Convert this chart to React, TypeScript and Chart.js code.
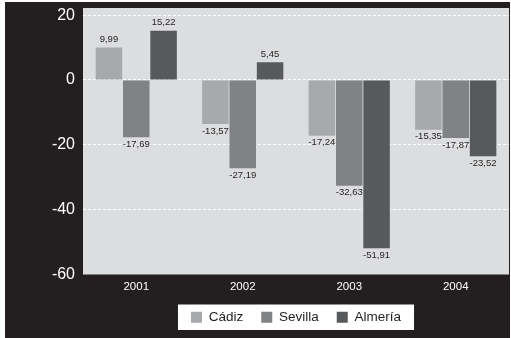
import React, { useEffect, useRef } from "react";
import { Chart, registerables } from "chart.js";

Chart.register(...registerables);

const CATEGORIES = ["2001", "2002", "2003", "2004"];
const SERIES_NAMES = ["Cádiz", "Sevilla", "Almería"];
const CADIZ = [9.99, -13.57, -17.24, -15.35];
const SEVILLA = [-17.69, -27.19, -32.63, -17.87];
const ALMERIA = [15.22, 5.45, -51.91, -23.52];
const Y_TICKS = [-60, -40, -20, 0, 20];
const COLORS = ["#a7a9ac", "#808285", "#58595b"];

const BLACK = "#231f20";
const GREY = "#dcdddf";
const FONT = "'Liberation Sans', Arial, sans-serif";

const backgroundPlugin = {
  id: "bgPlugin",
  beforeDraw(chart: any) {
    const { ctx, width, height, chartArea } = chart;
    ctx.save();
    ctx.fillStyle = "#ffffff";
    ctx.fillRect(0, 0, width, height);
    ctx.fillStyle = BLACK;
    ctx.fillRect(5, 2, 505, height - 2);
    ctx.fillStyle = GREY;
    ctx.fillRect(chartArea.left, chartArea.top, chartArea.right - chartArea.left, chartArea.bottom - chartArea.top);
    const hb = chart.legend && chart.legend.legendHitBoxes;
    if (hb && hb.length) {
      const first = hb[0];
      const last = hb[hb.length - 1];
      const x0 = first.left - 13;
      const x1 = last.left + last.width + 13;
      const y0 = first.top - 6;
      const y1 = first.top + first.height + 6;
      ctx.fillStyle = "#ffffff";
      ctx.fillRect(x0, y0, x1 - x0, y1 - y0);
    }
    ctx.restore();
  },
};

const valueLabelPlugin = {
  id: "valueLabels",
  afterDatasetsDraw(chart: any) {
    const { ctx } = chart;
    ctx.save();
    ctx.font = `9.5px ${FONT}`;
    ctx.fillStyle = BLACK;
    ctx.textAlign = "center";
    ctx.textBaseline = "middle";
    chart.data.datasets.forEach((ds: any, i: number) => {
      const meta = chart.getDatasetMeta(i);
      meta.data.forEach((bar: any, j: number) => {
        const v = ds.data[j] as number;
        const txt = v.toFixed(2).replace(".", ",");
        const y = v >= 0 ? bar.y - 8 : bar.y + 7;
        ctx.fillText(txt, bar.x, y);
      });
    });
    ctx.restore();
  },
};

export default function App() {
  const canvasRef = useRef<HTMLCanvasElement | null>(null);

  useEffect(() => {
    document.body.style.margin = "0";
    const canvas = canvasRef.current;
    if (!canvas) return;
    const seriesData = [CADIZ, SEVILLA, ALMERIA];
    const chart = new Chart(canvas, {
      type: "bar",
      data: {
        labels: CATEGORIES,
        datasets: SERIES_NAMES.map((name, i) => ({
          label: name,
          data: seriesData[i],
          backgroundColor: COLORS[i],
          borderWidth: 0,
          barPercentage: 0.97,
          categoryPercentage: 0.77,
        })),
      },
      options: {
        responsive: true,
        maintainAspectRatio: false,
        animation: false,
        devicePixelRatio: 1,
        layout: { padding: { left: 0, right: 2, top: 8, bottom: 4 } },
        plugins: {
          tooltip: { enabled: false },
          legend: {
            position: "bottom",
            fullSize: false,
            labels: {
              boxWidth: 11,
              boxHeight: 11,
              padding: 18,
              color: BLACK,
              font: { size: 13.5, family: FONT },
            },
          },
        },
        scales: {
          x: {
            grid: { display: false, drawTicks: false },
            border: { display: false },
            ticks: {
              color: "#ffffff",
              padding: 5,
              font: { size: 11.5, family: FONT },
            },
            afterFit(scale: any) {
              scale.height = 18;
            },
          },
          y: {
            min: -60,
            max: 22.2,
            ticks: {
              stepSize: 20,
              color: "#ffffff",
              padding: 8,
              font: { size: 16, family: FONT },
              callback: (v: any) => String(v),
            },
            afterBuildTicks(scale: any) {
              scale.ticks = Y_TICKS.map((v) => ({ value: v }));
            },
            afterFit(scale: any) {
              scale.width = 83;
              scale.paddingTop = 0;
              scale.paddingBottom = 0;
            },
            grid: {
              drawTicks: false,
              lineWidth: 1,
              color: (c: any) => (c.tick && c.tick.value === -60 ? "rgba(0,0,0,0)" : "#ffffff"),
            },
            border: { display: false, dash: [3, 2] },
          },
        },
      },
      plugins: [backgroundPlugin, valueLabelPlugin],
    } as any);
    return () => chart.destroy();
  }, []);

  return (
    <div style={{ position: "relative", width: "511px", height: "338px" }}>
      <canvas ref={canvasRef} />
    </div>
  );
}
